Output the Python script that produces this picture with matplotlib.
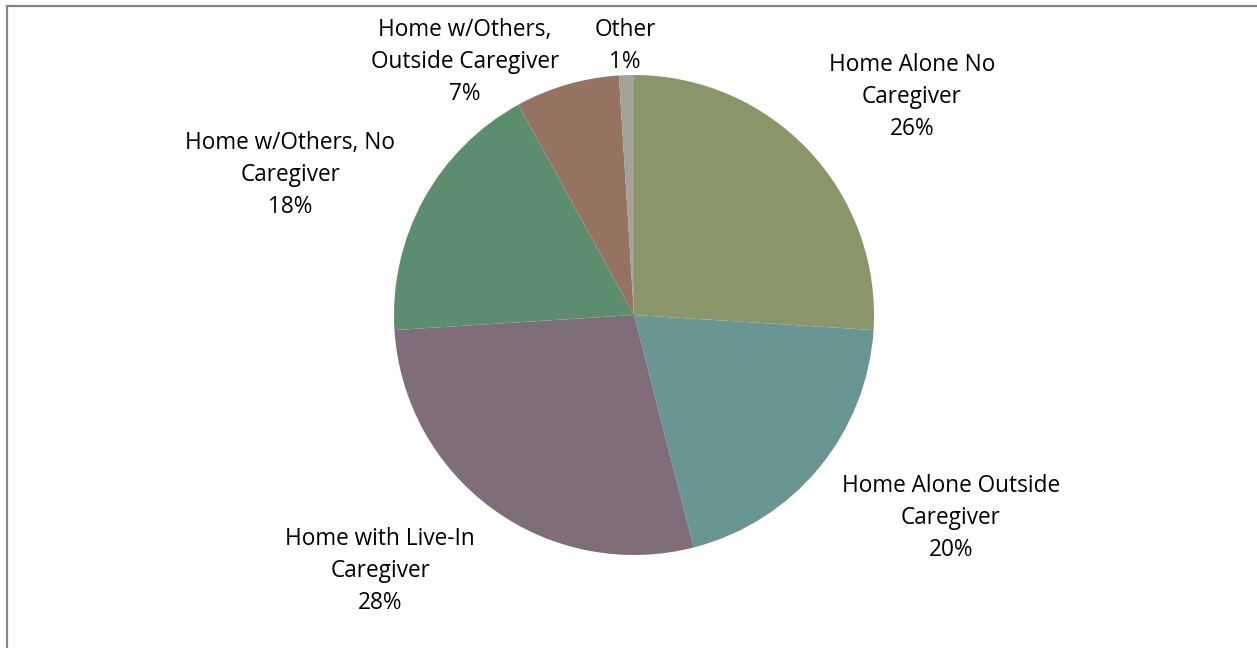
import matplotlib.pyplot as plt
from matplotlib.patches import Rectangle

# Living arrangement shares (percent), clockwise from 12 o'clock
categories = [
    "Home Alone No\nCaregiver",
    "Home Alone Outside\nCaregiver",
    "Home with Live-In\nCaregiver",
    "Home w/Others, No\nCaregiver",
    "Home w/Others,\nOutside Caregiver",
    "Other",
]
shares = [26, 20, 28, 18, 7, 1]
colors = ["#8A9669", "#6A9595", "#7F6E79", "#5C8D6E", "#947461", "#A4A196"]

# label centres relative to the pie centre, in pie radii
label_xy = [
    (1.158, 0.908),
    (1.321, -0.846),
    (-1.058, -1.067),
    (-1.433, 0.583),
    (-0.704, 1.054),
    (-0.038, 1.121),
]

W, H = 1257, 648
cx, cy, r = 634, 315, 240

fig = plt.figure(figsize=(W / 100, H / 100), dpi=100)
ax = fig.add_axes([0, 0, 1, 1])

ax.pie(shares, colors=colors, startangle=90, counterclock=False,
       radius=1, center=(0, 0), frame=True,
       wedgeprops=dict(linewidth=0.5, edgecolor="none"))
ax.set_xlim(-cx / r, (W - cx) / r)
ax.set_ylim(-(H - cy) / r, cy / r)
ax.set_aspect("auto")
ax.axis("off")

for name, val, (lx, ly) in zip(categories, shares, label_xy):
    ax.text(lx, ly, f"{name}\n{val}%", ha="center", va="center",
            fontsize=16.3, family="Open Sans", color="black", linespacing=1.45)

# chart frame (runs off the right and bottom edges)
fig.patches.append(Rectangle((7 / W, -0.05), 1.2, (H - 6) / H + 0.05,
                             transform=fig.transFigure, fill=False,
                             edgecolor="#868686", linewidth=1.6))

fig.savefig("out.png", dpi=100)
